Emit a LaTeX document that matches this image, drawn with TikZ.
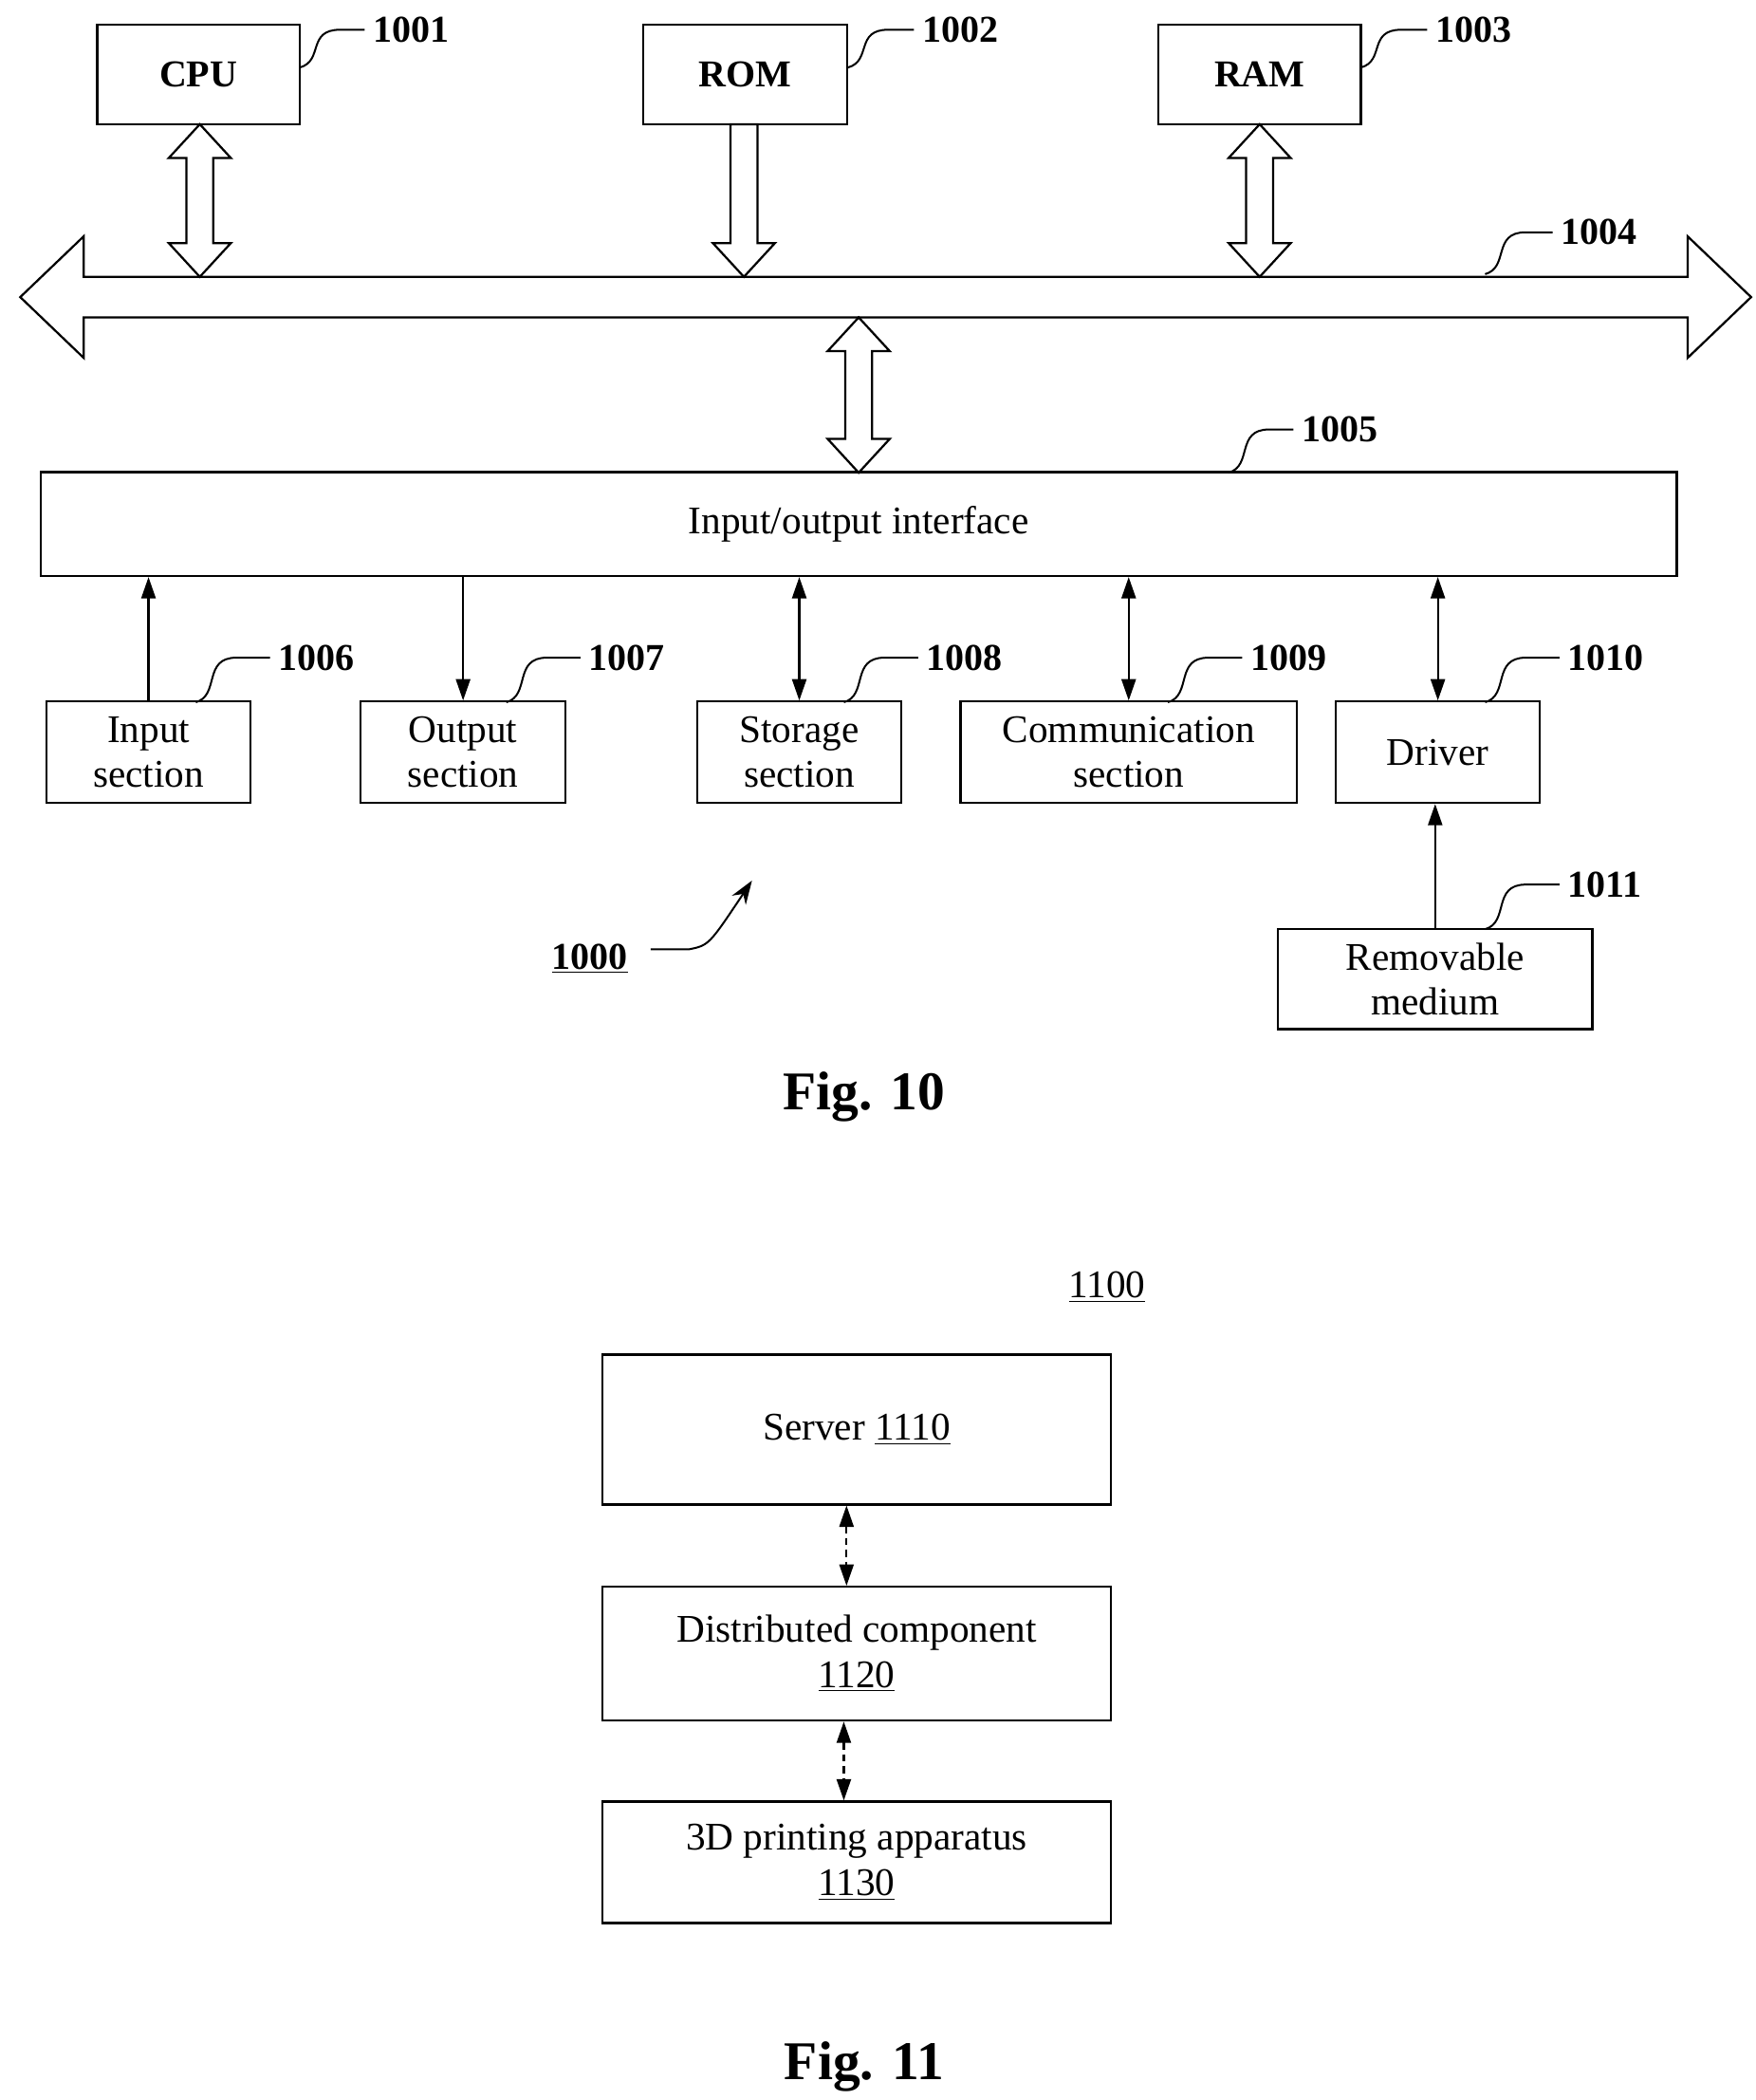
\documentclass[tikz,border=0pt]{standalone}
\usepackage{fontspec}
\setmainfont{Liberation Serif}
\usetikzlibrary{arrows.meta}
\begin{document}
\begin{tikzpicture}[x=0.02cm,y=-0.02cm,
 box/.style={draw,line width=0.9pt,inner sep=0pt,font=\fontsize{16.5}{19}\selectfont,align=center},
 bbox/.style={box,font=\fontsize{16}{19}\selectfont\bfseries},
 lab/.style={font=\fontsize{16}{19}\selectfont\bfseries},
 ld/.style={line width=0.8pt},
 ar/.style={line width=0.9pt,-{Triangle[length=9pt,width=6pt]}},
 dar/.style={line width=0.9pt,{Triangle[length=9pt,width=6pt]}-{Triangle[length=9pt,width=6pt]}},
 hol/.style={draw,line width=0.9pt,fill=white,line join=miter}]
\useasboundingbox (0,0) rectangle (1300,1555);
% hollow double vertical arrow
\newcommand\hdbl[3]{\draw[hol] (#1-10,#2+25) -- (#1-23,#2+25) -- (#1,#2) -- (#1+23,#2+25) -- (#1+10,#2+25) -- (#1+10,#3-25) -- (#1+23,#3-25) -- (#1,#3) -- (#1-23,#3-25) -- (#1-10,#3-25) -- cycle;}
% top boxes
\node[bbox,minimum width=150\pgflinewidth*0+3cm,minimum height=1.48cm] (cpu) at (147,55) {CPU};
\node[bbox,minimum width=3.02cm,minimum height=1.48cm] (rom) at (552,55) {ROM};
\node[bbox,minimum width=3cm,minimum height=1.48cm] (ram) at (933,55) {RAM};
% bus
\draw[hol] (15,220) -- (62,175) -- (62,205) -- (1250,205) -- (1250,175) -- (1297,220) -- (1250,265) -- (1250,235) -- (62,235) -- (62,265) -- cycle;
\hdbl{148}{92}{205}
\hdbl{933}{92}{205}
\hdbl{636}{235}{350}
\draw[hol] (541,92) -- (561,92) -- (561,180) -- (574,180) -- (551,205) -- (528,180) -- (541,180) -- cycle;
% IO
\node[box,minimum width=24.24cm,minimum height=1.54cm] (io) at (636,388) {Input/output interface};
% bottom boxes
\node[box,minimum width=3.02cm,minimum height=1.5cm] (in) at (110,557) {Input\\section};
\node[box,minimum width=3.04cm,minimum height=1.5cm] (out) at (343,557) {Output\\section};
\node[box,minimum width=3.02cm,minimum height=1.5cm] (sto) at (592,557) {Storage\\section};
\node[box,minimum width=4.98cm,minimum height=1.5cm] (com) at (836,557) {Communication\\section};
\node[box,minimum width=3.02cm,minimum height=1.5cm] (drv) at (1065,557) {Driver};
\node[box,minimum width=4.66cm,minimum height=1.48cm] (rem) at (1063,725) {Removable\\medium};
\draw[ar] (in.north) -- (io.south -| in.north);
\draw[ar] (io.south -| out.north) -- (out.north);
\draw[dar] (io.south -| sto.north) -- (sto.north);
\draw[dar] (io.south -| com.north) -- (com.north);
\draw[dar] (io.south -| drv.north) -- (drv.north);
\draw[ar] (rem.north -| 1063,0) -- (drv.south -| 1063,0);
% labels
\newcommand\leader[5]{\draw[ld] (#1,#2) .. controls (#1+18,#2-5) and (#1+5,#4) .. (#1+30,#4) -- (#3,#4); \node[lab,anchor=west] at (#3,#4) {#5};}
\leader{222}{50}{270}{22}{1001}
\leader{628}{50}{677}{22}{1002}
\leader{1008}{50}{1057}{22}{1003}
\leader{1100}{203}{1150}{172}{1004}
\leader{910}{350}{958}{318}{1005}
\leader{145}{520}{200}{487}{1006}
\leader{375}{520}{430}{487}{1007}
\leader{625}{520}{680}{487}{1008}
\leader{865}{520}{920}{487}{1009}
\leader{1100}{520}{1155}{487}{1010}
\leader{1100}{688}{1155}{655}{1011}
\node[lab] (n1000) at (437,710) {\underline{1000}};
\draw[ld,-{Stealth[length=10pt,width=7pt]}] (482,703) -- (510,703) .. controls (525,700) .. (557,652);
\node[font=\fontsize{23}{27}\selectfont\bfseries] (f10) at (640,812) {Fig. 10};
% Fig 11
\node[font=\fontsize{16.5}{19}\selectfont] (n1100) at (820,953) {\underline{1100}};
\node[box,minimum width=7.54cm,minimum height=2.22cm] (srv) at (634.5,1058.5) {Server \underline{1110}};
\node[box,minimum width=7.54cm,minimum height=1.98cm] (dis) at (634.5,1224.5) {Distributed component\\\underline{1120}};
\node[box,minimum width=7.54cm,minimum height=1.8cm] (pr) at (634.5,1379) {3D printing apparatus\\\underline{1130}};
\draw[dar,densely dashed] (srv.south -| 627,0) -- (dis.north -| 627,0);
\draw[dar,densely dashed] (dis.south -| 625,0) -- (pr.north -| 625,0);
\node[font=\fontsize{23}{27}\selectfont\bfseries] (f11) at (640,1530) {Fig. 11};
\end{tikzpicture}
\end{document}
